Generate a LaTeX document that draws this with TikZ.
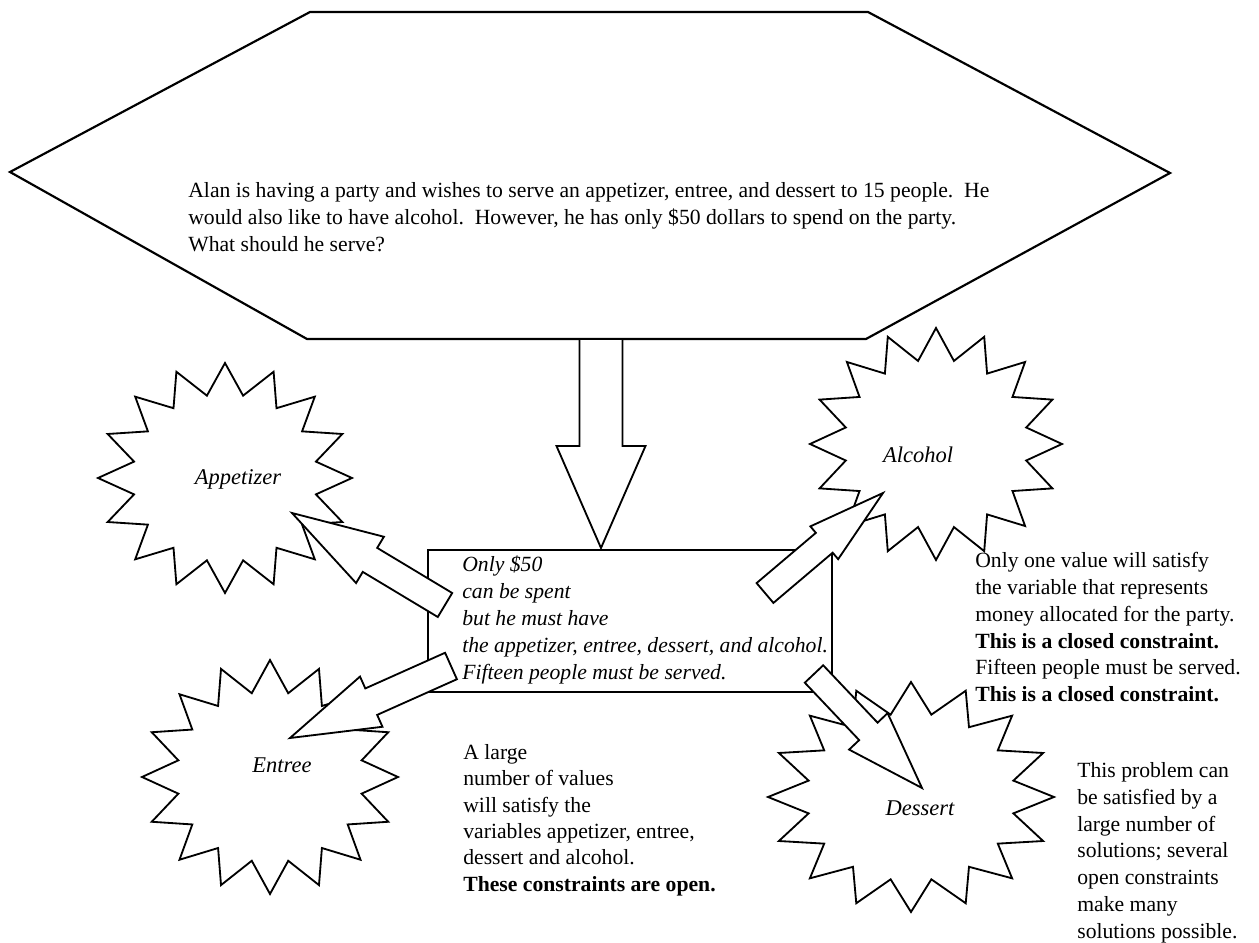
\documentclass[tikz,border=0pt]{standalone}
\usepackage{fontspec}
\setmainfont{Liberation Serif}
\usetikzlibrary{calc}

\tikzset{
  burst/.style={draw,fill=white,line width=1.1pt,line join=miter},
  barrow/.style={draw,fill=white,line width=1.1pt,line join=miter},
  note/.style={anchor=north west,align=left,inner sep=0pt,font=\fontsize{13}{16.1}\selectfont},
  starname/.style={inner sep=0pt,font=\fontsize{13.5}{15}\selectfont\itshape}
}

% 16-point starburst: centre, x radius, y radius
\newcommand{\drawburst}[3]{%
  \draw[burst,shift={(#1)}] plot[samples at={0,...,31}]
    ({#2*(1-0.27*mod(\x,2))*cos(90+11.25*\x)},{#3*(1-0.27*mod(\x,2))*sin(90+11.25*\x)}) -- cycle;
}
% block arrow: tail, tip, shaft half width, head half width, head length
\newcommand{\drawblockarrow}[5]{%
  \coordinate (hb) at ($(#2)!#5!(#1)$);
  \draw[barrow] ($(#1)!#3!90:(#2)$) -- ($(hb)!#3!90:(#2)$) -- ($(hb)!#4!90:(#2)$) -- (#2)
    -- ($(hb)!#4!-90:(#2)$) -- ($(hb)!#3!-90:(#2)$) -- ($(#1)!#3!-90:(#2)$) -- cycle;
}

\begin{document}
\begin{tikzpicture}[x=0.6pt,y=-0.6pt]
  \useasboundingbox (0,0) rectangle (1259,943);

  % the problem
  \draw[line width=1.3pt,line join=miter] (310,12) -- (868,12) -- (1170,173) -- (866,339)
    -- (307,339) -- (10,172) -- cycle;
  \node[note] (problem) at (188,182) {Alan is having a party and wishes to serve an appetizer, entree, and dessert to 15 people.\ \ He\\
    would also like to have alcohol.\ \ However, he has only \$50 dollars to spend on the party.\\
    What should he serve?};

  % constraints box
  \coordinate (hexBot) at (601,339);
  \coordinate (boxTop) at (601,548);
  \coordinate (boxNW) at (428,550);
  \coordinate (boxSE) at (832,692);
  \draw[line width=1.1pt] (boxNW) rectangle (boxSE);
  \drawblockarrow{hexBot}{boxTop}{12.9pt}{26.7pt}{61.2pt}

  % variables
  \coordinate (app) at (225,478);
  \coordinate (alc) at (936,444);
  \coordinate (ent) at (270,777);
  \coordinate (des) at (911,797);
  \drawburst{app}{127}{115}
  \drawburst{alc}{126}{116}
  \drawburst{ent}{128}{117}
  \drawburst{des}{143}{115}
  \node[starname] (appName) at (238,479) {Appetizer};
  \node[starname] (alcName) at (918,455) {Alcohol};
  \node[starname] (entName) at (282,765) {Entree};
  \node[starname] (desName) at (920,808) {Dessert};

  % arrows from the box
  \coordinate (appTail) at (445,605);
  \coordinate (appTip) at (292,513);
  \coordinate (entTail) at (451,666);
  \coordinate (entTip) at (290,738);
  \coordinate (alcTail) at (765,593);
  \coordinate (alcTip) at (883,493);
  \coordinate (desTail) at (814,674);
  \coordinate (desTip) at (922,788);
  \drawblockarrow{appTail}{appTip}{8.4pt}{16.2pt}{54.6pt}
  \drawblockarrow{entTail}{entTip}{8.7pt}{16.5pt}{53.4pt}
  \drawblockarrow{alcTail}{alcTip}{7.8pt}{12.9pt}{46.2pt}
  \drawblockarrow{desTail}{desTip}{7.6pt}{15.9pt}{46.8pt}

  \node[note,font=\fontsize{13}{16.2}\selectfont\itshape] (given) at (462,555) {Only \$50\\
    can be spent\\
    but he must have\\
    the appetizer, entree, dessert, and alcohol.\\
    Fifteen people must be served.};

  % comments
  \node[note] (closed) at (975,552) {Only one value will satisfy\\
    the variable that represents\\
    money allocated for the party.\\
    \textbf{This is a closed constraint.}\\
    Fifteen people must be served.\\
    \textbf{This is a closed constraint.}};
  \node[note,font=\fontsize{13}{15.8}\selectfont] (open) at (463,744) {A large\\
    number of values\\
    will satisfy the\\
    variables appetizer, entree,\\
    dessert and alcohol.\\
    \textbf{These constraints are open.}};
  \node[note] (many) at (1077,762) {This problem can\\
    be satisfied by a\\
    large number of\\
    solutions; several\\
    open constraints\\
    make many\\
    solutions possible.};
\end{tikzpicture}
\end{document}
